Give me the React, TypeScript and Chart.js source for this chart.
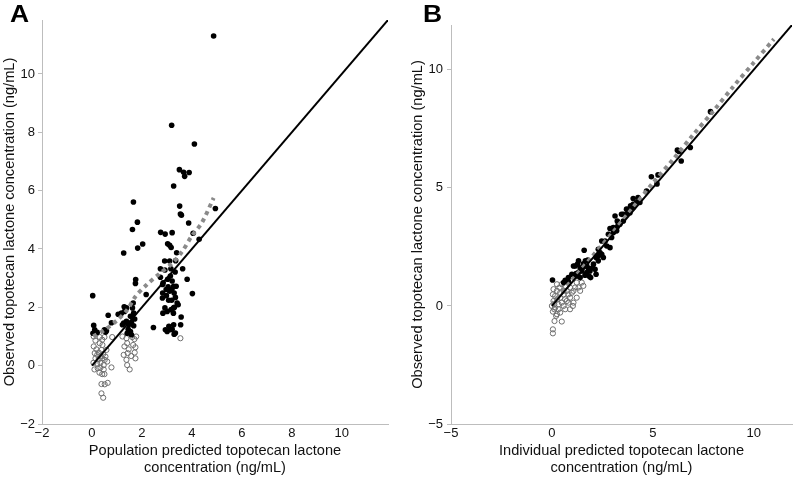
import React, { useEffect, useRef } from "react";
import { Chart, registerables } from "chart.js";
Chart.register(...registerables);

const FONT = '"Liberation Sans", Arial, Helvetica, sans-serif';

type P = [number, number];

// Panel A: population predicted (x) vs observed (y)
const aFilled: P[] = [
  [0.03, 2.4], [0.07, 1.38], [0.11, 1.23], [0.04, 1.11], [0.21, 1.14], [0.5, 1.23], [0.55, 1.15],
  [0.65, 1.73], [0.78, 1.47], [0.58, 1.2],
  [1.05, 1.76], [1.18, 1.8], [1.31, 1.86], [1.29, 2.02], [1.38, 1.98], [1.27, 1.46], [1.38, 1.52],
  [1.47, 1.4], [1.58, 1.48], [1.67, 1.37], [1.54, 1.17], [1.41, 1.11], [1.58, 1.06], [1.71, 1.6],
  [1.67, 1.8], [1.54, 1.69], [1.65, 2.15], [1.62, 1.98], [1.74, 2.82], [1.75, 2.95], [1.27, 3.86],
  [1.62, 4.67], [1.66, 5.61], [1.82, 4.92], [1.83, 4.03], [2.03, 4.17], [2.17, 2.44], [1.45, 1.25],
  [1.22, 1.4],
  [2.46, 1.31], [2.75, 4.57], [2.93, 4.51], [3.21, 4.56], [3.03, 4.18], [3.11, 4.13], [3.17, 4.05],
  [3.39, 3.87], [2.91, 3.59], [3.11, 3.59], [2.74, 3.32], [2.92, 3.28], [3.16, 3.32], [3.33, 3.21],
  [3.63, 3.32], [2.74, 3.03], [2.85, 2.84], [2.83, 2.78], [2.97, 2.61], [3.27, 2.72], [3.37, 2.72],
  [2.83, 2.49], [3.11, 2.55], [3.29, 2.49], [3.34, 2.34], [2.82, 2.32], [3.07, 2.24], [3.19, 2.24],
  [3.41, 2.15], [3.45, 2.09], [2.84, 1.8], [2.92, 1.98], [3.17, 1.92], [3.26, 1.8], [3.27, 1.98],
  [3.01, 1.86], [3.57, 1.67], [3.55, 1.4], [3.27, 1.4], [2.94, 1.23], [3.01, 1.17], [3.21, 1.25],
  [3.29, 1.08], [3.34, 1.12], [3.14, 1.23], [3.03, 2.96], [3.14, 3.07], [3.21, 2.9], [3.81, 2.96],
  [4.02, 2.47], [3.05, 2.7], [3.2, 2.62], [2.98, 2.4], [3.3, 2.0], [3.08, 1.35], [3.35, 3.6],
  [3.19, 8.24], [4.1, 7.6], [3.5, 6.72], [3.67, 6.63], [3.71, 6.49], [3.89, 6.62], [3.27, 6.16],
  [3.51, 5.47], [3.54, 5.2], [3.58, 5.16], [4.94, 5.39], [3.87, 4.89], [4.05, 4.54], [4.29, 4.33],
  [4.87, 11.3],
];

const aOpen: P[] = [
  [0.07, 1.0], [0.14, 0.86], [0.31, 0.98], [0.41, 0.89], [0.5, 0.98], [0.81, 0.98], [0.07, 0.66],
  [0.18, 0.56], [0.11, 0.43], [0.27, 0.45], [0.38, 0.54], [0.45, 0.4], [0.58, 0.54], [0.14, 0.25],
  [0.27, 0.22], [0.41, 0.25], [0.51, 0.2], [0.06, 0.1], [0.21, 0.06], [0.34, 0.1], [0.47, 0.02],
  [0.1, -0.13], [0.23, -0.09], [0.34, -0.07], [0.47, -0.13], [0.78, -0.06], [0.3, -0.24],
  [0.41, -0.29], [0.5, -0.29], [0.38, -0.63], [0.51, -0.64], [0.63, -0.59], [0.38, -0.95],
  [0.45, -1.1], [0.31, 0.77], [0.42, 0.71], [0.21, 0.37], [0.34, 0.33], [0.54, 0.31], [0.61, 0.14],
  [1.22, 1.0], [1.38, 0.94], [1.61, 0.98], [1.7, 0.91], [1.77, 1.0], [1.41, 0.77], [1.3, 0.66],
  [1.47, 0.56], [1.65, 0.71], [1.74, 0.63], [1.27, 0.37], [1.43, 0.43], [1.57, 0.33], [1.71, 0.45],
  [1.38, 0.2], [1.74, 0.25], [1.41, 0.02], [1.51, -0.13], [3.54, 0.94],
];

const aTrend: P[] = [
  [0.05, 1.0], [0.5, 1.22], [1.0, 1.55], [1.4, 1.9], [1.75, 2.38], [2.2, 2.78], [2.7, 3.15],
  [3.2, 3.5], [3.6, 3.9], [4.0, 4.45], [4.4, 4.9], [4.87, 5.75],
];

// Panel B: individual predicted (x) vs observed (y)
const bFilled: P[] = [
  [0.03, 1.1], [0.58, 0.99], [0.66, 1.09], [0.82, 1.03], [0.82, 1.2], [0.99, 1.34], [1.07, 1.31],
  [1.15, 1.31], [1.2, 1.37], [1.31, 1.41], [1.4, 1.48], [1.07, 1.69], [1.15, 1.69], [1.27, 1.77],
  [1.32, 1.91], [1.6, 2.36], [1.56, 1.79], [1.66, 1.91], [1.73, 1.69], [1.81, 1.6], [1.89, 1.48],
  [1.84, 1.27], [1.92, 1.2], [1.64, 1.3], [1.73, 1.41], [1.48, 1.48], [1.4, 1.62], [1.56, 1.65],
  [1.4, 1.2], [1.23, 1.27], [2.06, 1.77], [2.14, 1.55], [2.19, 1.34], [2.02, 1.62], [1.78, 1.94],
  [2.3, 2.12], [2.47, 2.19], [2.55, 2.05], [2.3, 1.91], [2.19, 2.05], [2.38, 2.26], [2.3, 2.4],
  [2.64, 2.75], [2.47, 2.75], [2.72, 2.54], [2.88, 2.47], [2.96, 2.9], [3.05, 3.11], [3.21, 3.32],
  [2.88, 3.28], [3.04, 3.32], [3.21, 3.18], [2.8, 3.04], [3.13, 3.81], [3.45, 3.88], [3.54, 3.6],
  [3.37, 3.46], [3.24, 3.6], [3.29, 3.46], [3.7, 4.1], [3.9, 4.24], [4.03, 4.31], [4.2, 4.38],
  [3.54, 3.88], [3.7, 3.88], [3.87, 3.95], [3.82, 4.1], [4.03, 4.17], [3.95, 4.15], [4.03, 4.55],
  [4.27, 4.59], [4.36, 4.38], [4.69, 4.87], [4.93, 5.47], [5.26, 5.55], [5.21, 5.17], [6.22, 6.6],
  [6.3, 6.54], [6.41, 6.14], [6.86, 6.71], [7.86, 8.23],
];

const bOpen: P[] = [
  [0.05, -0.24], [0.13, -0.64], [0.49, -0.66], [0.05, -0.99], [0.05, -1.16], [0.25, -0.35],
  [0.41, -0.28], [0.66, -0.14], [0.9, -0.14], [1.04, 0.0], [1.07, 0.14], [1.23, 0.35], [1.4, 0.64],
  [1.56, 0.85], [1.48, 0.99], [1.32, 0.78], [1.07, 0.64], [0.82, 0.49], [0.66, 0.28], [0.49, 0.14],
  [0.33, 0.07], [0.16, -0.07], [0.08, 0.21], [0.16, 0.42], [0.25, 0.64], [0.38, 0.78], [0.49, 0.92],
  [0.66, 0.85], [0.74, 0.64], [0.58, 0.49], [0.41, 0.35], [0.25, 0.28], [0.12, 0.07], [0.33, -0.14],
  [0.58, 0.0], [0.74, 0.21], [0.9, 0.35], [0.99, 0.56], [1.15, 0.78], [0.9, 0.78], [0.82, 0.14],
  [0.05, 0.49], [0.08, 0.71], [0.25, 0.92], [0.41, 0.56], [0.0, 0.0], [0.21, -0.42], [0.12, -0.14],
  [0.58, 0.64], [1.23, 0.99],
];

const bTrend: P[] = [
  [0.0, 0.05], [1, 1.1], [2, 2.1], [3, 3.1], [4, 4.15], [5, 5.2], [6, 6.2], [7, 7.25], [8, 8.25],
  [9, 9.3], [10, 10.3], [11, 11.3],
];

const aMax = 11.85;
const bMax = 11.9;
const aIdentity: P[] = [[0, 0], [aMax, aMax]];
const bIdentity: P[] = [[0, 0], [bMax, bMax]];

const yTitle = "Observed topotecan lactone concentration (ng/mL)";
const aXTitle = ["Population predicted topotecan lactone", "concentration (ng/mL)"];
const bXTitle = ["Individual predicted topotecan lactone", "concentration (ng/mL)"];

const toXY = (arr: P[]) => arr.map(([x, y]) => ({ x, y }));
const fmt = (v: any) => (Number(v) < 0 ? "\u2212" + Math.abs(Number(v)) : String(v));

type Panel = {
  letter: string;
  letterX: number;
  filled: P[];
  open: P[];
  trend: P[];
  identity: P[];
  min: number;
  max: number;
  step: number;
  xTitle: string[];
  yAxisWidth: number;
  yTickPad: number;
  yTitlePad: number;
  padTop: number;
  padRight: number;
};

const TEXT = "#111";
const AXIS = "#bdbdbd";

function build(canvas: HTMLCanvasElement, p: Panel) {
  const letterPlugin = {
    id: "letter",
    afterDraw(chart: any) {
      const ctx = chart.ctx;
      ctx.save();
      ctx.translate(p.letterX, 22);
      ctx.scale(1.15, 1);
      ctx.font = `bold 23px ${FONT}`;
      ctx.fillStyle = "#000";
      ctx.textBaseline = "alphabetic";
      ctx.fillText(p.letter, 0, 0);
      ctx.restore();
    },
  };
  return new Chart(canvas, {
    type: "scatter",
    data: {
      datasets: [
        {
          data: toXY(p.identity),
          showLine: true,
          borderColor: "#000",
          borderWidth: 2,
          pointRadius: 0,
        },
        {
          data: toXY(p.trend),
          showLine: true,
          borderColor: "#8a8a8a",
          borderWidth: 4,
          borderDash: [4, 4],
          pointRadius: 0,
          tension: 0.3,
        },
        {
          data: toXY(p.filled),
          pointRadius: 2.8,
          pointBackgroundColor: "#000",
          pointBorderColor: "#000",
          pointBorderWidth: 0,
        },
        {
          data: toXY(p.open),
          pointRadius: 2.6,
          pointBackgroundColor: "rgba(0,0,0,0)",
          pointBorderColor: "#6e6e6e",
          pointBorderWidth: 1,
        },
      ] as any,
    },
    options: {
      animation: false,
      responsive: false,
      layout: { padding: { left: 0, top: p.padTop, right: p.padRight, bottom: 0 } },
      plugins: { legend: { display: false }, tooltip: { enabled: false } },
      scales: {
        x: {
          type: "linear",
          min: p.min,
          max: p.max,
          ticks: {
            stepSize: p.step,
            includeBounds: false,
            padding: 2,
            color: TEXT,
            font: { family: FONT, size: 13 },
            callback: fmt,
          },
          grid: { display: false, drawTicks: false },
          border: { display: true, color: AXIS, width: 1 },
          title: {
            display: true,
            text: p.xTitle,
            color: TEXT,
            font: { family: FONT, size: 14.6 },
            padding: { top: 0, bottom: 2 },
          },
          afterFit: (s: any) => {
            s.height = 55;
          },
        },
        y: {
          type: "linear",
          min: p.min,
          max: p.max,
          ticks: {
            stepSize: p.step,
            includeBounds: false,
            padding: p.yTickPad,
            color: TEXT,
            font: { family: FONT, size: 13 },
            callback: fmt,
          },
          grid: {
            display: true,
            drawOnChartArea: false,
            drawTicks: true,
            tickLength: 4,
            color: AXIS,
          },
          border: { display: true, color: AXIS, width: 1 },
          title: {
            display: true,
            text: yTitle,
            color: TEXT,
            font: { family: FONT, size: 14.6 },
            padding: { top: p.yTitlePad, bottom: 0 },
          },
          afterFit: (s: any) => {
            s.width = p.yAxisWidth;
          },
        },
      } as any,
    },
    plugins: [letterPlugin],
  });
}

const panelA: Panel = {
  letter: "A",
  letterX: 10,
  filled: aFilled,
  open: aOpen,
  trend: aTrend,
  identity: aIdentity,
  min: -2,
  max: aMax,
  step: 2,
  xTitle: aXTitle,
  yAxisWidth: 42,
  yTickPad: 3,
  yTitlePad: 1,
  padTop: 20,
  padRight: 12,
};

const panelB: Panel = {
  letter: "B",
  letterX: 23,
  filled: bFilled,
  open: bOpen,
  trend: bTrend,
  identity: bIdentity,
  min: -5,
  max: bMax,
  step: 5,
  xTitle: bXTitle,
  yAxisWidth: 51,
  yTickPad: 4,
  yTitlePad: 9,
  padTop: 25,
  padRight: 4,
};

export default function App() {
  const refA = useRef<HTMLCanvasElement>(null);
  const refB = useRef<HTMLCanvasElement>(null);
  useEffect(() => {
    const ca = build(refA.current!, panelA);
    const cb = build(refB.current!, panelB);
    return () => {
      ca.destroy();
      cb.destroy();
    };
  }, []);
  return (
    <div style={{ position: "absolute", left: 0, top: 0, width: 797, height: 479, background: "#fff" }}>
      <canvas ref={refA} width={400} height={479} style={{ position: "absolute", left: 0, top: 0 }} />
      <canvas ref={refB} width={397} height={479} style={{ position: "absolute", left: 400, top: 0 }} />
    </div>
  );
}
